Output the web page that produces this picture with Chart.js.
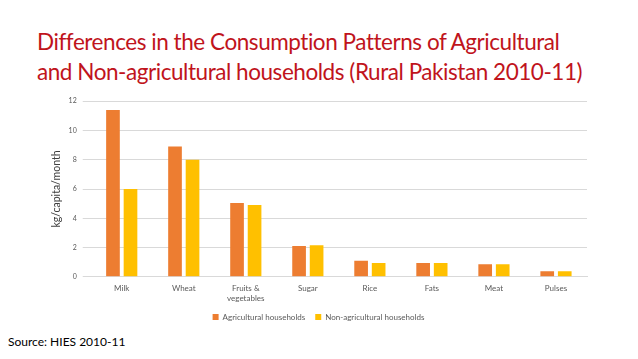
<!DOCTYPE html>
<html>
<head>
<meta charset="utf-8">
<script src="https://cdn.jsdelivr.net/npm/chart.js@4"></script>
<style>
  body { margin: 0; background: #fff; width: 638px; height: 359px; overflow: hidden; position: relative; font-family: Lato, "Open Sans", sans-serif; }
  #title { position: absolute; left: 37px; top: 27px; color: #C0141C; font-size: 22.5px; line-height: 30px; letter-spacing: -0.45px; }
  #source { position: absolute; left: 8px; top: 334px; font-size: 12px; color: #000; }
  #wrap { position: absolute; left: 50px; top: 91px; width: 547px; height: 240px; }
</style>
</head>
<body>
<div id="title">Differences in the Consumption Patterns of Agricultural<br>and Non-agricultural households (Rural Pakistan 2010-11)</div>
<div id="wrap"><canvas id="chart"></canvas></div>
<div id="source">Source: HIES 2010-11</div>
<script>
const categories = ['Milk', 'Wheat', ['Fruits &', 'vegetables'], 'Sugar', 'Rice', 'Fats', 'Meat', 'Pulses'];
const agricultural = [11.4, 8.9, 5.05, 2.1, 1.1, 0.95, 0.85, 0.38];
const nonAgricultural = [6.0, 8.0, 4.9, 2.15, 0.95, 0.95, 0.85, 0.38];
const yTicks = [0, 2, 4, 6, 8, 10, 12];

const ctx = document.getElementById('chart').getContext('2d');
new Chart(ctx, {
    type: 'bar',
    data: {
        labels: categories,
        datasets: [{
            label: 'Agricultural households',
            data: agricultural,
            backgroundColor: '#ED7D31',
            barPercentage: 0.78,
            categoryPercentage: 0.565
        }, {
            label: 'Non-agricultural households',
            data: nonAgricultural,
            backgroundColor: '#FFC000',
            barPercentage: 0.78,
            categoryPercentage: 0.565
        }]
    },
    options: {
        responsive: true,
        maintainAspectRatio: false,
        animation: false,
        layout: { padding: { top: 2, right: 10 } },
        plugins: {
            legend: {
                position: 'bottom',
                labels: { boxWidth: 6, boxHeight: 6, font: { size: 8, family: 'Lato' }, color: '#595959', padding: 10 }
            },
            tooltip: { enabled: false }
        },
        scales: {
            x: {
                grid: { display: false, drawTicks: false },
                border: { color: '#d9d9d9' },
                ticks: { font: { size: 8, family: 'Lato' }, color: '#595959', maxRotation: 0, padding: 7 },
                // pull the legend a bit closer to the labels
                afterFit: scale => { scale.height -= 7; }
            },
            y: {
                min: 0,
                max: 12,
                afterBuildTicks: axis => { axis.ticks = yTicks.map(v => ({ value: v })); },
                grid: { color: '#d9d9d9' },
                border: { display: false },
                ticks: { font: { size: 7, family: 'Lato' }, color: '#595959', padding: 6 },
                title: { display: true, text: 'kg/capita/month', font: { size: 10.5, family: 'Lato' }, color: '#404040', padding: 0 }
            }
        }
    }
});
</script>
</body>
</html>
